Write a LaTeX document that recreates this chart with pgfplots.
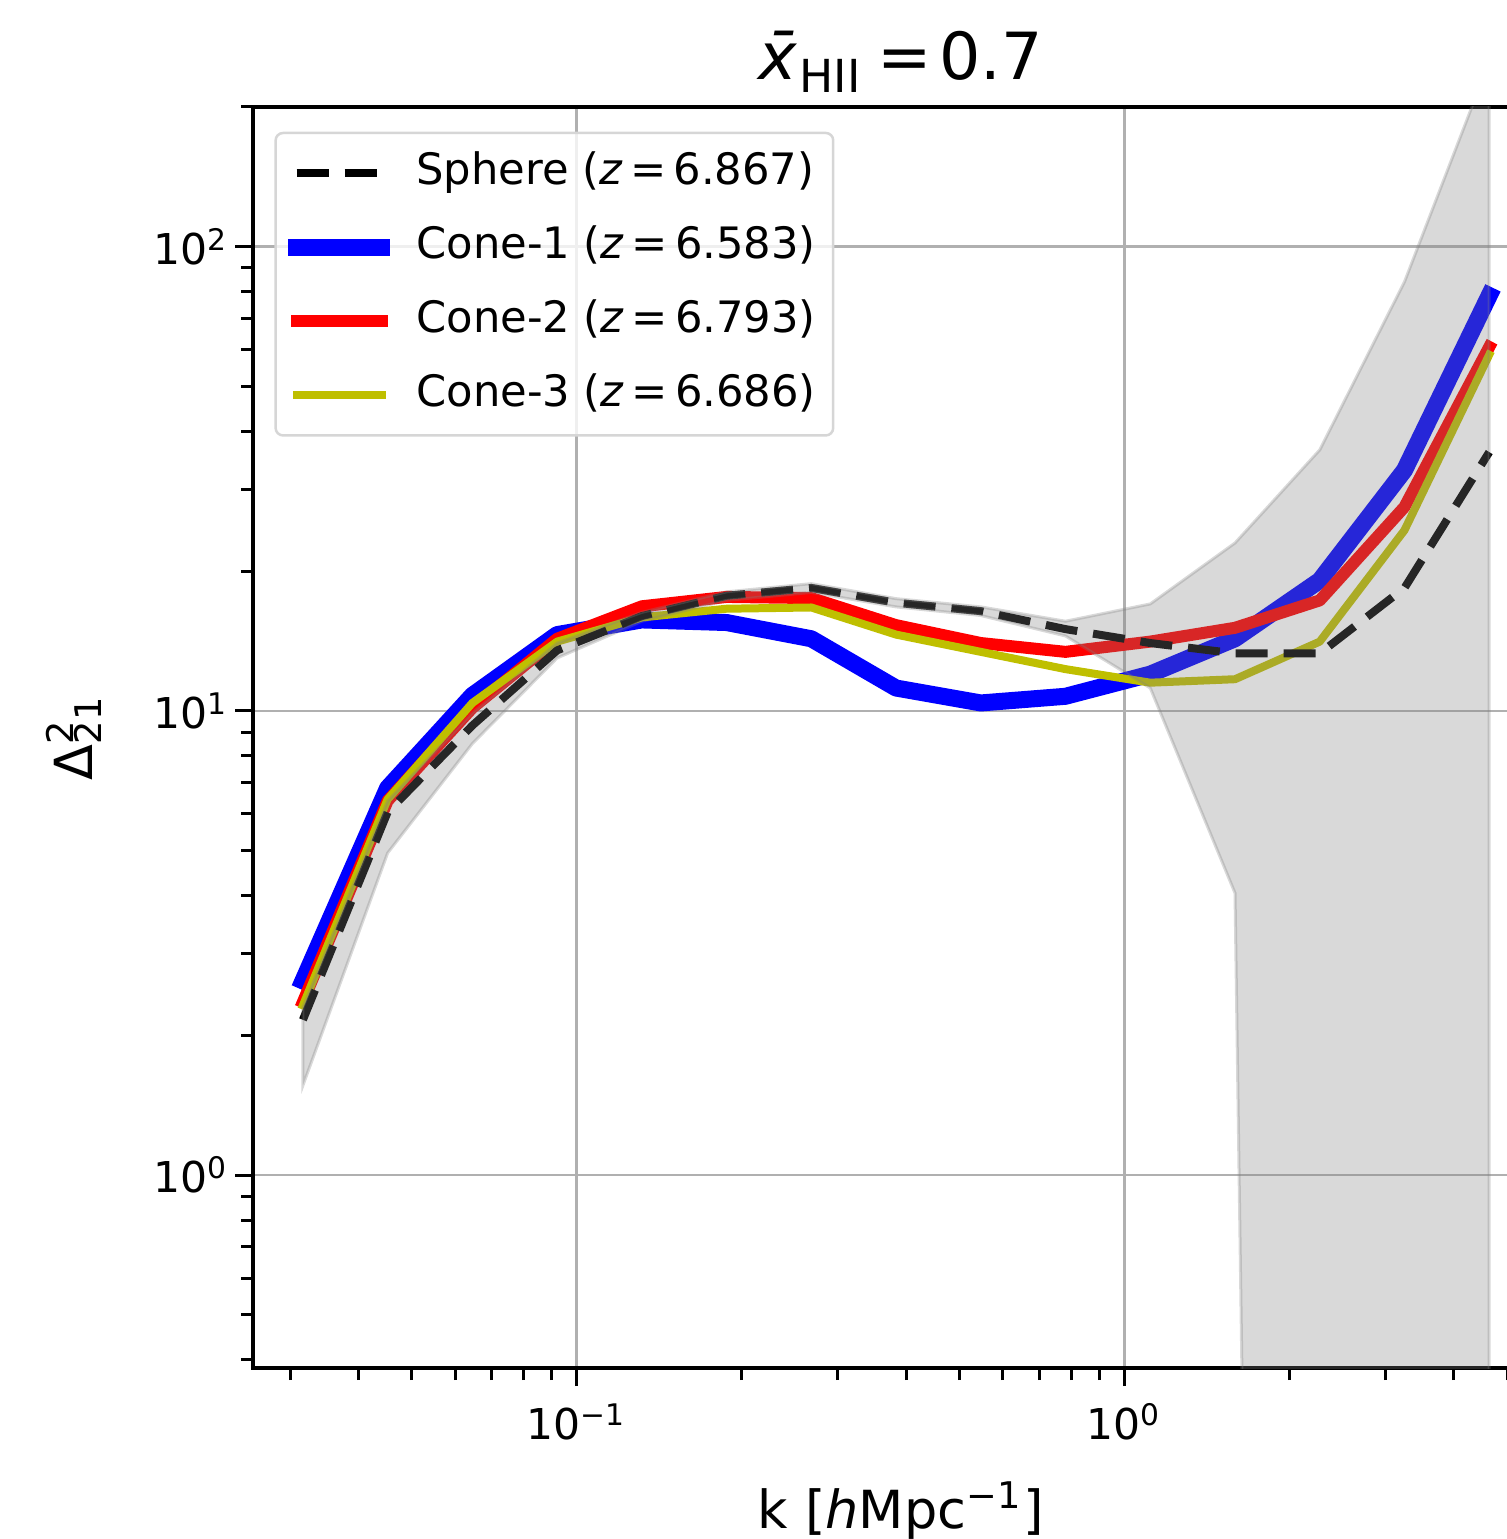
\documentclass[border=0pt]{standalone}
\usepackage{fontspec}
\setmainfont{DejaVu Sans}
\usepackage{pgfplots}
\usepackage{pgfplotstable}
\pgfplotsset{compat=1.18}
\definecolor{gridgray}{HTML}{B0B0B0}
\definecolor{olivey}{rgb}{0.75,0.75,0}

\pgfplotstableread{
k        sphere cone1 cone2 cone3
0.03162  2.16   2.62  2.36  2.32
0.04515  6.05   6.82  6.40  6.45
0.06448  9.3    10.8  10.15 10.4
0.09209  13.5   14.6  14.3  14.1
0.13151  16.0   15.7  16.8  15.9
0.18780  17.7   15.5  17.6  16.6
0.26820  18.4   14.3  17.5  16.7
0.38301  17.1   11.2  15.3  14.6
0.54697  16.4   10.4  14.0  13.4
0.78112  15.0   10.75 13.4  12.3
1.1155   14.0   12.0  14.1  11.5
1.5930   13.3   14.3  15.1  11.7
2.2750   13.3   19.1  17.3  14.1
3.2488   18.4   33.0  27.5  24.5
4.6396   36.1   78.5  60.8  58.5
}\datatable

\begin{document}
\begin{tikzpicture}
\useasboundingbox (-50.6pt,-34.2pt) rectangle (250.8pt,273.6pt);
\begin{axis}[
  at={(0pt,0pt)}, anchor=south west,
  scale only axis, width=259.1pt, height=252.2pt,
  xmode=log, ymode=log,
  xmin=0.02563, xmax=5.953, ymin=0.384, ymax=200,
  xtick={0.1,1}, xticklabels={10\textsuperscript{−1},10\textsuperscript{0}},
  ytick={1,10,100}, yticklabels={10\textsuperscript{0},10\textsuperscript{1},10\textsuperscript{2}},
  minor xtick={0.03,0.04,0.05,0.06,0.07,0.08,0.09,0.2,0.3,0.4,0.5,0.6,0.7,0.8,0.9,2,3,4,5},
  minor ytick={0.4,0.5,0.6,0.7,0.8,0.9,2,3,4,5,6,7,8,9,20,30,40,50,60,70,80,90,200},
  tick pos=left, tick align=outside,
  major tick length=3.6pt, minor tick length=2.4pt,
  tick style={black, line width=0.6pt},
  axis line style={line width=0.7pt},
  xmajorgrids, ymajorgrids,
  major grid style={gridgray, line width=0.5pt},
  tick label style={font=\fontsize{8.5}{10}\selectfont},
  yticklabel style={xshift=2.4pt},
  title={\textit{\=x}\textsubscript{HII}\hspace{0.22em}=\hspace{0.12em}0.7},
  title style={at={(axis description cs:0.5,0.9976)}, anchor=base, font=\fontsize{13}{15}\selectfont},
  xlabel={k [\textit{h}Mpc\textsuperscript{−1}]},
  xlabel style={at={(axis description cs:0.5,-0.1269)}, anchor=base, font=\fontsize{10.5}{12}\selectfont},
  ylabel={Δ\rlap{\textsuperscript{2}}\textsubscript{21}},
  ylabel style={at={(axis description cs:-0.1235,0.5)}, anchor=base, font=\fontsize{10.5}{12}\selectfont},
  legend cell align=left,
  legend style={
    at={(axis description cs:0.0165,0.9804)}, anchor=north west,
    draw=black!16, line width=0.5pt, rounded corners=1.5pt,
    fill=white, fill opacity=0.8, text opacity=1,
    font=\fontsize{8.65}{10}\selectfont,
    inner xsep=2.5pt, inner ysep=3pt,
    row sep=4.7pt,
    nodes={inner sep=1pt, text height=6.3pt, text depth=1.8pt},
    /tikz/every odd column/.append style={column sep=4.2pt},
    /tikz/every even column/.append style={inner xsep=2.8pt},
  },
]
\addlegendimage{black, line width=1.6pt, dash pattern=on 6.4pt off 3.2pt, line cap=butt}
\addlegendentry{Sphere (\textit{z}\,=\,6.867)}
\addlegendimage{blue, line width=3.4pt, line cap=rect}
\addlegendentry{Cone-1 (\textit{z}\,=\,6.583)}
\addlegendimage{red, line width=2.4pt, line cap=rect}
\addlegendentry{Cone-2 (\textit{z}\,=\,6.793)}
\addlegendimage{olivey, line width=1.6pt, line cap=rect}
\addlegendentry{Cone-3 (\textit{z}\,=\,6.686)}

\addplot[forget plot, blue, line width=3.4pt, line cap=rect, line join=round] table[x=k, y=cone1] {\datatable};
\addplot[forget plot, red, line width=2.4pt, line cap=rect, line join=round] table[x=k, y=cone2] {\datatable};
\addplot[forget plot, olivey, line width=1.6pt, line cap=rect, line join=round] table[x=k, y=cone3] {\datatable};
\addplot[forget plot, black, line width=1.6pt, dash pattern=on 6.4pt off 3.2pt, line cap=butt, line join=round] table[x=k, y=sphere] {\datatable};

\addplot[forget plot, fill=gray, fill opacity=0.3, draw=gray, draw opacity=0.3, line width=0.6pt] coordinates {
(0.03162,2.3) (0.04515,6.4) (0.06448,9.9) (0.09209,14.0) (0.13151,16.3) (0.18780,18.05) (0.26820,18.8) (0.38301,17.45) (0.54697,16.75) (0.78112,15.6) (1.1155,17.0) (1.5930,23.0) (2.2750,36.5) (3.2488,84) (4.6396,250)
(4.6396,1e-12) (3.2488,1e-12) (2.2750,1e-12) (1.5930,4.05) (1.1155,11.2) (0.78112,14.5) (0.54697,16.05) (0.38301,16.75) (0.26820,18.0) (0.18780,17.3) (0.13151,15.6) (0.09209,13.0) (0.06448,8.5) (0.04515,4.94) (0.03162,1.56)
} -- cycle;
\end{axis}
\end{tikzpicture}
\end{document}
